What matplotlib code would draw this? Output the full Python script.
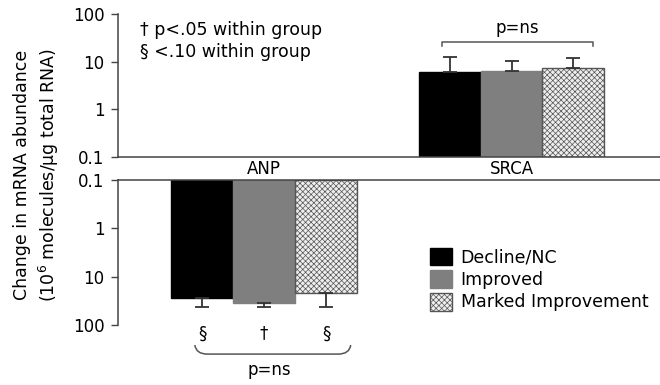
import matplotlib.pyplot as plt
from matplotlib.patches import Patch
from matplotlib.path import Path
from matplotlib.patches import PathPatch

plt.rcParams['font.family'] = ['DejaVu Sans']
plt.rcParams['hatch.color'] = '#bdbdbd'
plt.rcParams['hatch.linewidth'] = 0.5

gruppen = ['Decline/NC', 'Improved', 'Marked Improvement']
warna = ['#000000', '#7f7f7f', '#eeeeee']
tepi = ['#000000', '#7f7f7f', '#555555']
arsir = [None, None, 'xxxxxx']

# ANP (decrease, plotted downwards) and SRCA (increase)
anp_mean = [28, 35, 22]
anp_err = [15, 8, 21]
anp_sig = ['§', '†', '§']
srca_mean = [6.1, 6.4, 7.4]
srca_err = [6.5, 4.0, 4.6]

tick_vals = [0.1, 1, 10, 100]
tick_txt = ['0.1', '1', '10', '100']

fs = 12
fig = plt.figure(figsize=(6.6, 3.85), dpi=100)
ax_top = fig.add_axes([0.179, 0.592, 0.821, 0.372])
ax_bot = fig.add_axes([0.179, 0.156, 0.821, 0.377])

lebar = 0.25
offset = [-0.25, 0, 0.25]
garis = '#444444'

for ax in (ax_top, ax_bot):
    ax.set_yscale('log')
    ax.set_xlim(-0.59, 1.6)
    ax.set_xticks([])
    ax.set_yticks(tick_vals)
    ax.set_yticklabels(tick_txt)
    ax.minorticks_off()
    ax.tick_params(axis='y', length=5, width=1, color=garis, labelsize=fs, pad=5)
    ax.spines['right'].set_visible(False)
    for s in ax.spines.values():
        s.set_color(garis)
        s.set_linewidth(1.1)

ax_top.set_ylim(0.1, 100)
ax_top.spines['top'].set_visible(False)
ax_bot.set_ylim(100, 0.1)
ax_bot.spines['bottom'].set_visible(False)

for i in range(3):
    ax_top.bar(1 + offset[i], srca_mean[i] - 0.1, bottom=0.1, width=lebar,
               color=warna[i], edgecolor=tepi[i], hatch=arsir[i], linewidth=1)
    ax_top.errorbar(1 + offset[i], srca_mean[i], yerr=[[0], [srca_err[i]]],
                    fmt='none', ecolor='#333333', elinewidth=1.3, capsize=5, capthick=1.3)
    ax_bot.bar(0 + offset[i], anp_mean[i] - 0.1, bottom=0.1, width=lebar,
               color=warna[i], edgecolor=tepi[i], hatch=arsir[i], linewidth=1)
    ax_bot.errorbar(0 + offset[i], anp_mean[i], yerr=[[0], [anp_err[i]]],
                    fmt='none', ecolor='#333333', elinewidth=1.3, capsize=5, capthick=1.3)
    ax_bot.text(0 + offset[i], 150, anp_sig[i], ha='center', va='center',
                fontsize=fs, clip_on=False)

# labels between the two panels
ax_bot.text(0, 1.01, 'ANP', transform=ax_bot.get_xaxis_transform(),
            ha='center', va='bottom', fontsize=fs)
ax_bot.text(1, 1.01, 'SRCA', transform=ax_bot.get_xaxis_transform(),
            ha='center', va='bottom', fontsize=fs)

# bracket atas
x0, x1, yb = 0.72, 1.33, 26
ax_top.plot([x0, x0, x1, x1], [21, yb, yb, 21], color='#555555', lw=1.1)
ax_top.text((x0 + x1) / 2, 33, 'p=ns', ha='center', va='bottom', fontsize=fs)

# bracket bawah (lengkung)
bx0, bx1, by = -0.28, 0.35, 400
jalur = Path([(bx0, 260), (bx0 + 0.005, by), (bx0 + 0.05, by),
              (bx1 - 0.05, by), (bx1 - 0.005, by), (bx1, 260)],
             [Path.MOVETO, Path.CURVE3, Path.CURVE3,
              Path.LINETO, Path.CURVE3, Path.CURVE3])
ax_bot.add_patch(PathPatch(jalur, fill=False, edgecolor='#555555', lw=1.1, clip_on=False))
ax_bot.text(0.02, 560, 'p=ns', ha='center', va='top', fontsize=fs, clip_on=False)

ax_top.text(0.04, 0.95, '† p<.05 within group\n§ <.10 within group',
            transform=ax_top.transAxes, ha='left', va='top', fontsize=12.5,
            linespacing=1.25)

fig.text(0.056, 0.545, 'Change in mRNA abundance\n(10$^6$ molecules/μg total RNA)',
         rotation=90, ha='center', va='center', fontsize=12.5, linespacing=1.35)

handles = [Patch(facecolor=warna[i], edgecolor=tepi[i], hatch=arsir[i], label=gruppen[i])
           for i in range(3)]
fig.legend(handles=handles, loc='upper left', bbox_to_anchor=(0.652, 0.357),
           frameon=False, fontsize=12.5, handlelength=1.25, handleheight=1.2,
           labelspacing=0.22, handletextpad=0.5, borderpad=0, borderaxespad=0)

fig.savefig('out.png', dpi=100)
